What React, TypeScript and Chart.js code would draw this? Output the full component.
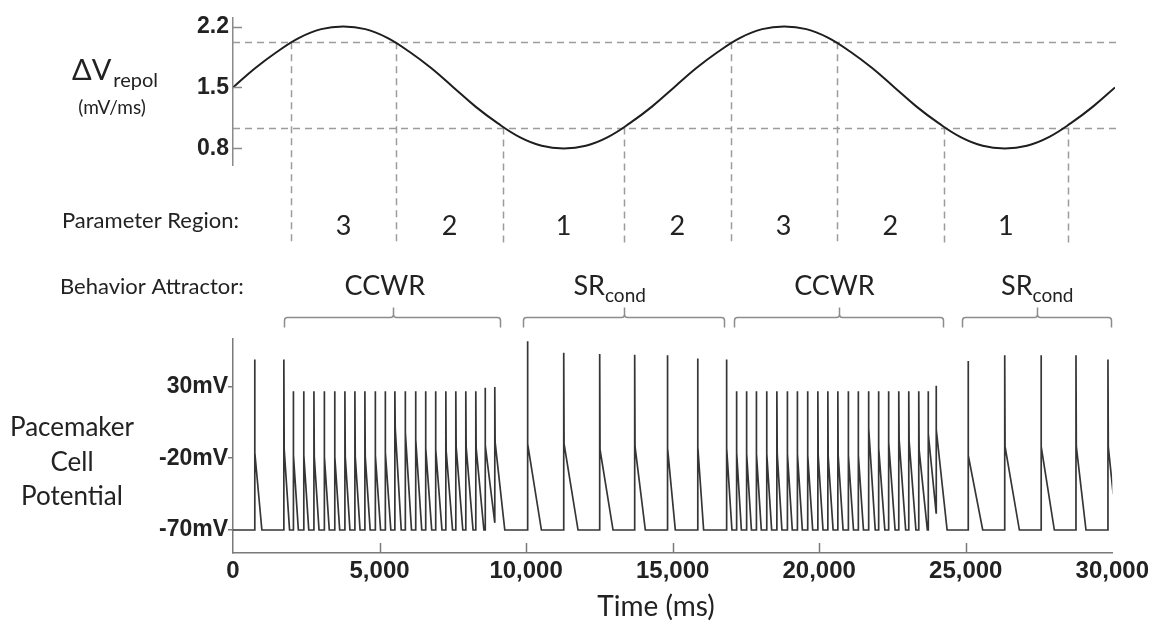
import React, { useEffect, useRef } from "react";
import { Chart, registerables } from "chart.js";
Chart.register(...registerables);

const W = 1153;
const H = 628;
const TOP_H = 250;
const BOT_H = H - TOP_H;

// ---------- top panel: ΔV_repol (mV/ms) vs time ----------
const timeSamples = [
  0, 750, 1500, 2250, 3000, 3750, 4500, 5250, 6000, 6750, 7500, 8250, 9000, 9750, 10500,
  11250, 12000, 12750, 13500, 14250, 15000, 15750, 16500, 17250, 18000, 18750, 19500,
  20250, 21000, 21750, 22500, 23250, 24000, 24750, 25500, 26250, 27000, 27750, 28500,
  29250, 30000,
];
const dvRepol = [
  1.5, 1.72, 1.91, 2.07, 2.17, 2.2, 2.17, 2.07, 1.91, 1.72, 1.5, 1.28, 1.09, 0.93, 0.83,
  0.8, 0.83, 0.93, 1.09, 1.28, 1.5, 1.72, 1.91, 2.07, 2.17, 2.2, 2.17, 2.07, 1.91, 1.72,
  1.5, 1.28, 1.09, 0.93, 0.83, 0.8, 0.83, 0.93, 1.09, 1.28, 1.5,
];
const dvTicks = [0.8, 1.5, 2.2];
const thresholdLevels = [2.02, 1.04];
const regionBoundaryTimes = [1970, 5560, 9180, 13300, 16930, 20530, 24180, 28400];
const regionBoundaryLevels = [2.02, 2.02, 1.04, 1.04, 2.02, 2.02, 1.04, 1.04];
const regionLabels = ["3", "2", "1", "2", "3", "2", "1"];

// ---------- behavior attractor brackets ----------
const behaviorMain = ["CCWR", "SR", "CCWR", "SR"];
const behaviorSub = ["", "cond", "", "cond"];
const behaviorTextTime = [5180, 12850, 20520, 27440];
const bracketStart = [1739, 9898, 17080, 24876];
const bracketMid = [5465, 13340, 20670, 27420];
const bracketEnd = [9126, 16749, 24239, 29956];

// ---------- bottom panel: pacemaker cell potential ----------
const potentialTicks = [-70, -20, 30];
const timeTicks = [0, 5000, 10000, 15000, 20000, 25000, 30000];
const restPotential = -70;
const spikeTime = [
  738, 1735, 2056, 2410, 2761, 3112, 3467, 3818, 4159, 4500, 4851, 5192, 5523, 5874, 6228,
  6569, 6910, 7261, 7602, 7943, 8284, 8601, 8932,
  10047, 11284, 12511, 13705, 14820, 15852, 16836,
  17177, 17518, 17853, 18205, 18556, 18910, 19251, 19602, 19954, 20295, 20636, 20990,
  21330, 21682, 22023, 22364, 22715, 23056, 23397, 23716, 23990,
  25080, 26330, 27568, 28761, 29852,
];
const spikePeak = [
  48.7, 48.7, 26.7, 26.7, 26.7, 26.7, 26.7, 26.7, 26.7, 26.7, 26.7, 26.7, 26.7, 26.7, 26.7,
  26.7, 26.7, 26.7, 26.7, 26.7, 26.7, 29, 29.5,
  61.4, 53.4, 52.5, 52, 51.7, 49.5, 48.7,
  26.7, 26.7, 26.7, 26.7, 26.7, 26.7, 26.7, 26.7, 26.7, 26.7, 26.7, 26.7, 26.7, 26.7, 26.7,
  26.7, 26.7, 26.7, 26.7, 26.7, 30.5,
  47.6, 51.7, 51.7, 51.7, 48.7,
];
const spikeMid = [
  -16, -14, -18, -18, -19, -19, -19, -19, -19, -19, -18, -16, 1, -2, -7, -13, -14, -15, -12,
  -12, -13, -11, -9,
  -10, -10, -14, -12, -13, -12, -13,
  -16, -17, -17, -17, -17, -17, -17, -18, -18, -19, -18, -18, -18, 1, -13, -9, -7, -8, -14,
  -3, 0,
  -18, -12, -12, -12, -12,
];
const rampEnd = [
  985, 1930, 2230, 2585, 2935, 3285, 3640, 3990, 4335, 4680, 5035, 5385, 5740, 6090, 6440,
  6780, 7130, 7490, 7840, 8190, 8560, 8932, 9273,
  10523, 11772, 12966, 14068, 15091, 16057, 17023,
  17345, 17688, 18025, 18378, 18728, 19082, 19425, 19778, 20130, 20475, 20815, 21170,
  21510, 21912, 22240, 22590, 22950, 23300, 23690, 23990, 24364,
  25579, 26830, 28023, 29102, 30030,
];
const rampFloor = [
  -70, -70, -70, -70, -70, -70, -70, -70, -70, -70, -70, -70, -70, -70, -70, -70, -70, -70,
  -70, -70, -70, -65, -70,
  -70, -70, -70, -70, -70, -70, -70,
  -70, -70, -70, -70, -70, -70, -70, -70, -70, -70, -70, -70, -70, -70, -70, -70, -70, -70,
  -70, -58, -70,
  -70, -70, -70, -70, -45,
];

const TEXT = "#222222";
const LABEL_FONT = "Lato, 'Open Sans', sans-serif";
const TICK_FONT = "'Liberation Sans', Arial, sans-serif";

function buildTrace() {
  const pts: { x: number; y: number }[] = [{ x: 0, y: restPotential }];
  let lastY = restPotential;
  for (let i = 0; i < spikeTime.length; i++) {
    const t = spikeTime[i];
    pts.push({ x: t, y: lastY });
    pts.push({ x: t, y: spikePeak[i] });
    pts.push({ x: t + 12, y: spikeMid[i] });
    pts.push({ x: rampEnd[i], y: rampFloor[i] });
    lastY = rampFloor[i];
  }
  return pts;
}

const topPlugin = {
  id: "topAnnot",
  beforeDatasetsDraw(chart: any) {
    const { ctx, chartArea, scales } = chart;
    const xs = scales.x;
    const ys = scales.y;
    ctx.save();
    ctx.strokeStyle = "#9c9c9c";
    ctx.lineWidth = 1.5;
    ctx.setLineDash([7, 5]);
    thresholdLevels.forEach((lv) => {
      const y = Math.round(ys.getPixelForValue(lv)) + 0.5;
      ctx.beginPath();
      ctx.moveTo(chartArea.left, y);
      ctx.lineTo(chartArea.right + 3, y);
      ctx.stroke();
    });
    regionBoundaryTimes.forEach((t, i) => {
      const x = Math.round(xs.getPixelForValue(t)) + 0.5;
      const y0 = ys.getPixelForValue(regionBoundaryLevels[i]);
      ctx.beginPath();
      ctx.moveTo(x, y0);
      ctx.lineTo(x, 244);
      ctx.stroke();
    });
    ctx.restore();
  },
  afterDraw(chart: any) {
    const { ctx, chartArea, scales } = chart;
    const xs = scales.x;
    const ys = scales.y;
    ctx.save();
    ctx.strokeStyle = "#8a8a8a";
    ctx.lineWidth = 1.5;
    dvTicks.forEach((v) => {
      const y = Math.round(ys.getPixelForValue(v)) + 0.5;
      ctx.beginPath();
      ctx.moveTo(chartArea.left, y);
      ctx.lineTo(chartArea.left + 9, y);
      ctx.stroke();
    });
    ctx.fillStyle = TEXT;
    ctx.font = `27px ${LABEL_FONT}`;
    ctx.textAlign = "center";
    ctx.textBaseline = "alphabetic";
    regionLabels.forEach((lab, i) => {
      const x =
        (xs.getPixelForValue(regionBoundaryTimes[i]) +
          xs.getPixelForValue(regionBoundaryTimes[i + 1])) /
        2;
      ctx.fillText(lab, x, 235);
    });
    ctx.textAlign = "left";
    ctx.font = `22px ${LABEL_FONT}`;
    ctx.fillText("Parameter Region:", 62, 228);
    ctx.font = `29px ${LABEL_FONT}`;
    ctx.fillText("ΔV", 72, 80);
    const w = ctx.measureText("ΔV").width;
    ctx.font = `20px ${LABEL_FONT}`;
    ctx.fillText("repol", 72 + w + 2, 87);
    ctx.font = `19px ${LABEL_FONT}`;
    ctx.textAlign = "center";
    ctx.fillText("(mV/ms)", 112, 114);
    ctx.restore();
  },
};

const botPlugin = {
  id: "botAnnot",
  afterDraw(chart: any) {
    const { ctx, chartArea, scales } = chart;
    const xs = scales.x;
    ctx.save();
    ctx.strokeStyle = "#7a7a7a";
    ctx.lineWidth = 1.5;
    timeTicks.slice(1, -1).forEach((t) => {
      const x = Math.round(xs.getPixelForValue(t)) + 0.5;
      ctx.beginPath();
      ctx.moveTo(x, chartArea.bottom);
      ctx.lineTo(x, chartArea.bottom - 10);
      ctx.stroke();
    });
    ctx.strokeStyle = "#8c8c8c";
    ctx.lineWidth = 1.5;
    const yh = 67.5;
    for (let i = 0; i < bracketStart.length; i++) {
      const x0 = Math.round(xs.getPixelForValue(bracketStart[i])) + 0.5;
      const xm = Math.round(xs.getPixelForValue(bracketMid[i])) + 0.5;
      const x1 = Math.round(xs.getPixelForValue(bracketEnd[i])) + 0.5;
      ctx.beginPath();
      ctx.moveTo(x0, yh + 10);
      ctx.lineTo(x0, yh + 3);
      ctx.quadraticCurveTo(x0, yh, x0 + 3, yh);
      ctx.lineTo(xm - 3, yh);
      ctx.quadraticCurveTo(xm, yh, xm, yh - 3);
      ctx.lineTo(xm, yh - 10);
      ctx.moveTo(xm, yh - 3);
      ctx.quadraticCurveTo(xm, yh, xm + 3, yh);
      ctx.lineTo(x1 - 3, yh);
      ctx.quadraticCurveTo(x1, yh, x1, yh + 3);
      ctx.lineTo(x1, yh + 10);
      ctx.stroke();
    }
    ctx.fillStyle = TEXT;
    ctx.textBaseline = "alphabetic";
    ctx.textAlign = "left";
    for (let i = 0; i < behaviorMain.length; i++) {
      ctx.font = `27px ${LABEL_FONT}`;
      const wm = ctx.measureText(behaviorMain[i]).width;
      ctx.font = `19px ${LABEL_FONT}`;
      const ws = behaviorSub[i] ? ctx.measureText(behaviorSub[i]).width : 0;
      const cx = xs.getPixelForValue(behaviorTextTime[i]);
      const left = cx - (wm + ws) / 2;
      ctx.font = `27px ${LABEL_FONT}`;
      ctx.fillText(behaviorMain[i], left, 45);
      if (behaviorSub[i]) {
        ctx.font = `19px ${LABEL_FONT}`;
        ctx.fillText(behaviorSub[i], left + wm, 52);
      }
    }
    ctx.font = `22px ${LABEL_FONT}`;
    ctx.fillText("Behavior Attractor:", 60, 44);
    ctx.font = `26px ${LABEL_FONT}`;
    ctx.textAlign = "center";
    ctx.fillText("Pacemaker", 72, 186);
    ctx.fillText("Cell", 72, 221);
    ctx.fillText("Potential", 72, 255);
    ctx.font = `28px ${LABEL_FONT}`;
    ctx.fillText("Time (ms)", 656, 366);
    ctx.restore();
  },
};

export default function App() {
  const topRef = useRef<HTMLCanvasElement>(null);
  const botRef = useRef<HTMLCanvasElement>(null);

  useEffect(() => {
    const yTickFont = { family: TICK_FONT, size: 23, weight: "bold" as const };
    const xTickFont = { family: TICK_FONT, size: 24, weight: "bold" as const };
    const top = new Chart(topRef.current as HTMLCanvasElement, {
      type: "line",
      data: {
        datasets: [
          {
            data: timeSamples.map((t, i) => ({ x: t, y: dvRepol[i] })),
            borderColor: "#1e1e1e",
            borderWidth: 2,
            pointRadius: 0,
            tension: 0.4,
            fill: false,
          },
        ],
      },
      options: {
        responsive: false,
        animation: false,
        events: [],
        layout: { padding: { top: 15, right: 38, bottom: 85, left: 0 } },
        plugins: { legend: { display: false }, tooltip: { enabled: false } },
        scales: {
          x: { type: "linear", min: 0, max: 30000, display: false },
          y: {
            type: "linear",
            min: 0.61,
            max: 2.3,
            afterFit: (s: any) => {
              s.width = 233;
            },
            afterBuildTicks: (s: any) => {
              s.ticks = dvTicks.map((v) => ({ value: v }));
            },
            grid: { drawOnChartArea: false, drawTicks: false },
            border: { display: true, color: "#8a8a8a", width: 1.5 },
            ticks: {
              padding: 4,
              font: yTickFont,
              color: TEXT,
              callback: (v: any) => Number(v).toFixed(1),
            },
          },
        },
      },
      plugins: [topPlugin],
    });

    const bot = new Chart(botRef.current as HTMLCanvasElement, {
      type: "line",
      data: {
        datasets: [
          {
            data: buildTrace(),
            borderColor: "#363636",
            borderWidth: 1.7,
            pointRadius: 0,
            tension: 0,
            fill: false,
          },
        ],
      },
      options: {
        responsive: false,
        animation: false,
        events: [],
        layout: { padding: { top: 89, right: 40, bottom: 0, left: 0 } },
        plugins: { legend: { display: false }, tooltip: { enabled: false } },
        scales: {
          x: {
            type: "linear",
            min: 0,
            max: 30000,
            afterFit: (s: any) => {
              s.height = 75;
            },
            afterBuildTicks: (s: any) => {
              s.ticks = timeTicks.map((v) => ({ value: v }));
            },
            grid: { drawOnChartArea: false, drawTicks: false },
            border: { display: true, color: "#7a7a7a", width: 1.5 },
            ticks: {
              padding: 4,
              autoSkip: false,
              maxRotation: 0,
              font: xTickFont,
              color: TEXT,
              callback: (v: any) => Number(v).toLocaleString("en-US"),
            },
          },
          y: {
            type: "linear",
            min: -86,
            max: 63,
            afterFit: (s: any) => {
              s.width = 233;
            },
            afterBuildTicks: (s: any) => {
              s.ticks = potentialTicks.map((v) => ({ value: v }));
            },
            grid: {
              drawOnChartArea: false,
              drawTicks: true,
              tickLength: 5,
              color: "#7a7a7a",
              lineWidth: 1.5,
            },
            border: { display: true, color: "#7a7a7a", width: 1.5 },
            ticks: {
              padding: 0,
              font: yTickFont,
              color: TEXT,
              callback: (v: any) => `${v}mV`,
            },
          },
        },
      },
      plugins: [botPlugin],
    });

    return () => {
      top.destroy();
      bot.destroy();
    };
  }, []);

  return (
    <div
      style={{
        position: "absolute",
        left: 0,
        top: 0,
        width: W,
        height: H,
        background: "#ffffff",
        overflow: "hidden",
      }}
    >
      <canvas
        ref={topRef}
        width={W}
        height={TOP_H}
        style={{ position: "absolute", left: 0, top: 0, width: W, height: TOP_H }}
      />
      <canvas
        ref={botRef}
        width={W}
        height={BOT_H}
        style={{ position: "absolute", left: 0, top: TOP_H, width: W, height: BOT_H }}
      />
    </div>
  );
}
